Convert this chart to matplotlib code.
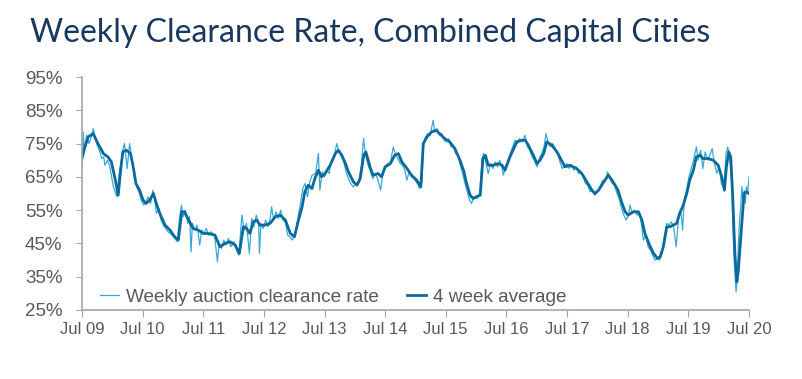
import matplotlib
matplotlib.use("Agg")
import matplotlib.pyplot as plt
import pandas as pd

# 4 week average
avg_dates = [
    "2009-07-01", "2009-07-16", "2009-08-07", "2009-09-07", "2009-09-25", "2009-10-16",
    "2009-11-07", "2009-12-04", "2009-12-25", "2010-01-16", "2010-02-04", "2010-02-22",
    "2010-03-04", "2010-03-25", "2010-04-19", "2010-05-04", "2010-05-22", "2010-06-13",
    "2010-07-04", "2010-07-22", "2010-08-13", "2010-09-04", "2010-09-22", "2010-10-13",
    "2010-11-13", "2010-12-13", "2011-01-10", "2011-02-01", "2011-02-22", "2011-03-10",
    "2011-04-10", "2011-05-01", "2011-06-01", "2011-07-01", "2011-07-28", "2011-09-10",
    "2011-10-10", "2011-11-10", "2011-12-10", "2012-01-10", "2012-02-04", "2012-02-28",
    "2012-03-19", "2012-04-07", "2012-04-28", "2012-05-19", "2012-06-07", "2012-07-07",
    "2012-08-07", "2012-09-07", "2012-10-07", "2012-11-07", "2012-12-07", "2013-01-01",
    "2013-01-25", "2013-02-16", "2013-03-04", "2013-03-25", "2013-04-16", "2013-05-04",
    "2013-05-25", "2013-06-13", "2013-07-04", "2013-08-04", "2013-09-04", "2013-09-22",
    "2013-10-13", "2013-11-04", "2013-11-22", "2013-12-22", "2014-01-13", "2014-02-01",
    "2014-02-22", "2014-03-07", "2014-04-01", "2014-04-19", "2014-05-19", "2014-06-10",
    "2014-07-01", "2014-08-01", "2014-08-28", "2014-09-19", "2014-10-10", "2014-11-10",
    "2014-12-07", "2015-01-07", "2015-02-01", "2015-02-16", "2015-03-10", "2015-04-07",
    "2015-05-04", "2015-05-25", "2015-06-25", "2015-07-25", "2015-08-25", "2015-09-25",
    "2015-10-19", "2015-11-04", "2015-11-25", "2015-12-13", "2016-01-13", "2016-01-25",
    "2016-02-10", "2016-02-25", "2016-03-13", "2016-04-13", "2016-05-13", "2016-06-04",
    "2016-06-22", "2016-07-22", "2016-09-01", "2016-10-01", "2016-10-22", "2016-11-10",
    "2016-12-10", "2017-01-01", "2017-01-19", "2017-02-10", "2017-03-01", "2017-04-01",
    "2017-05-01", "2017-05-28", "2017-06-19", "2017-07-19", "2017-08-28", "2017-09-28",
    "2017-10-28", "2017-11-28", "2017-12-16", "2018-01-07", "2018-02-07", "2018-03-07",
    "2018-04-04", "2018-05-04", "2018-05-25", "2018-06-16", "2018-07-04", "2018-08-04",
    "2018-09-04", "2018-09-25", "2018-10-13", "2018-11-10", "2018-12-04", "2018-12-28",
    "2019-01-13", "2019-02-01", "2019-02-22", "2019-03-13", "2019-04-01", "2019-04-22",
    "2019-05-10", "2019-06-01", "2019-06-22", "2019-07-10", "2019-08-01", "2019-08-19",
    "2019-09-10", "2019-09-28", "2019-10-28", "2019-11-28", "2019-12-28", "2020-01-19",
    "2020-02-04", "2020-02-16", "2020-03-01", "2020-03-13", "2020-03-25", "2020-04-07",
    "2020-04-19", "2020-04-28", "2020-05-19", "2020-06-01", "2020-06-16", "2020-07-01",
]
avg_values = [
    70.5, 73.5, 77.0, 78.0, 76.0, 74.0,
    72.0, 71.0, 69.5, 64.5, 59.5, 68.5,
    72.5, 73.0, 72.0, 68.5, 63.0, 61.0,
    58.0, 57.0, 58.0, 60.0, 57.0, 54.0,
    50.5, 49.0, 47.0, 46.0, 54.5, 54.5,
    51.5, 49.5, 49.0, 48.0, 48.0, 47.5,
    44.0, 45.0, 45.5, 44.5, 42.0, 50.0,
    49.5, 48.0, 51.5, 52.0, 50.5, 50.5,
    51.0, 53.0, 53.5, 52.0, 48.0, 47.0,
    52.0, 56.0, 60.5, 62.5, 61.5, 64.5,
    67.0, 65.0, 66.0, 68.5, 72.0, 73.0,
    71.5, 69.0, 66.5, 63.5, 62.5, 64.5,
    71.5, 72.5, 68.0, 65.5, 66.0, 65.0,
    68.0, 69.0, 71.5, 72.0, 69.5, 67.5,
    65.5, 64.0, 62.0, 75.0, 77.0, 78.5,
    79.0, 78.0, 76.5, 75.5, 73.5, 70.0,
    66.5, 63.0, 59.5, 58.5, 59.3, 59.5,
    70.5, 71.5, 68.5, 68.5, 69.0, 68.5,
    67.0, 71.0, 75.5, 76.0, 76.0, 74.5,
    71.5, 69.0, 70.0, 72.0, 75.5, 74.5,
    72.5, 70.0, 68.0, 68.5, 67.5, 66.0,
    63.5, 61.0, 60.0, 61.0, 63.5, 65.5,
    63.5, 61.0, 57.5, 54.5, 53.5, 54.5,
    54.5, 52.0, 48.0, 44.5, 42.0, 40.5,
    41.0, 44.0, 50.0, 50.0, 50.5, 51.0,
    54.0, 56.5, 60.0, 64.0, 67.0, 71.0,
    71.5, 70.5, 70.5, 70.0, 68.5, 65.0,
    61.0, 68.0, 72.5, 71.0, 59.0, 42.0,
    33.5, 37.0, 51.0, 60.0, 60.5, 60.0,
]

# weekly auction clearance rate (incl. visible spikes)
weekly_dates = [
    "2009-07-01", "2009-07-08", "2009-07-15", "2009-07-29", "2009-08-12", "2009-08-26",
    "2009-09-07", "2009-09-16", "2009-09-30", "2009-10-14", "2009-10-28", "2009-11-09",
    "2009-11-16", "2009-12-02", "2009-12-16", "2010-01-06", "2010-01-27", "2010-02-10",
    "2010-02-24", "2010-03-03", "2010-03-14", "2010-03-30", "2010-04-14", "2010-04-28",
    "2010-05-12", "2010-05-26", "2010-06-09", "2010-06-23", "2010-07-07", "2010-07-21",
    "2010-08-04", "2010-08-18", "2010-09-01", "2010-09-12", "2010-09-22", "2010-10-06",
    "2010-10-20", "2010-11-03", "2010-11-17", "2010-12-01", "2010-12-15", "2011-01-05",
    "2011-01-26", "2011-02-09", "2011-02-20", "2011-03-02", "2011-03-16", "2011-03-30",
    "2011-04-10", "2011-04-19", "2011-04-27", "2011-05-11", "2011-05-25", "2011-06-10",
    "2011-06-22", "2011-07-06", "2011-07-20", "2011-08-03", "2011-08-17", "2011-09-07",
    "2011-09-25", "2011-10-05", "2011-10-19", "2011-11-02", "2011-11-16", "2011-11-30",
    "2011-12-14", "2012-01-04", "2012-01-18", "2012-02-01", "2012-02-19", "2012-03-04",
    "2012-03-18", "2012-04-04", "2012-04-18", "2012-05-02", "2012-05-16", "2012-05-30",
    "2012-06-04", "2012-06-13", "2012-06-27", "2012-07-11", "2012-07-25", "2012-08-08",
    "2012-08-16", "2012-08-29", "2012-09-12", "2012-09-26", "2012-10-10", "2012-10-24",
    "2012-11-07", "2012-11-21", "2012-12-05", "2012-12-19", "2013-01-09", "2013-01-23",
    "2013-02-06", "2013-02-20", "2013-03-06", "2013-03-20", "2013-04-03", "2013-04-17",
    "2013-05-08", "2013-05-25", "2013-06-03", "2013-06-17", "2013-07-01", "2013-07-15",
    "2013-07-29", "2013-08-12", "2013-08-26", "2013-09-13", "2013-09-27", "2013-10-11",
    "2013-10-25", "2013-11-08", "2013-11-22", "2013-12-06", "2013-12-20", "2014-01-10",
    "2014-01-24", "2014-02-07", "2014-02-21", "2014-03-07", "2014-03-21", "2014-04-04",
    "2014-04-18", "2014-05-02", "2014-05-16", "2014-06-04", "2014-06-18", "2014-07-02",
    "2014-07-16", "2014-07-30", "2014-08-19", "2014-09-02", "2014-09-16", "2014-09-30",
    "2014-10-14", "2014-10-28", "2014-11-09", "2014-11-23", "2014-12-07", "2014-12-21",
    "2015-01-11", "2015-01-25", "2015-02-08", "2015-02-15", "2015-03-01", "2015-03-15",
    "2015-03-29", "2015-04-16", "2015-04-26", "2015-05-10", "2015-05-24", "2015-06-07",
    "2015-06-21", "2015-07-05", "2015-07-19", "2015-08-02", "2015-08-16", "2015-08-30",
    "2015-09-13", "2015-09-27", "2015-10-11", "2015-10-25", "2015-11-08", "2015-11-22",
    "2015-12-04", "2015-12-18", "2016-01-08", "2016-01-22", "2016-02-05", "2016-02-13",
    "2016-02-27", "2016-03-13", "2016-03-27", "2016-04-10", "2016-04-24", "2016-05-08",
    "2016-05-22", "2016-06-05", "2016-06-12", "2016-06-26", "2016-07-10", "2016-07-24",
    "2016-08-07", "2016-08-21", "2016-09-04", "2016-09-18", "2016-10-02", "2016-10-21",
    "2016-11-04", "2016-11-18", "2016-12-02", "2016-12-16", "2017-01-01", "2017-01-15",
    "2017-01-29", "2017-02-12", "2017-02-24", "2017-03-10", "2017-03-24", "2017-04-07",
    "2017-04-21", "2017-05-05", "2017-05-19", "2017-06-02", "2017-06-16", "2017-06-30",
    "2017-07-14", "2017-07-28", "2017-08-11", "2017-08-25", "2017-09-08", "2017-09-22",
    "2017-10-06", "2017-10-20", "2017-11-03", "2017-11-17", "2017-12-01", "2017-12-15",
    "2018-01-05", "2018-01-19", "2018-02-02", "2018-02-16", "2018-03-02", "2018-03-16",
    "2018-03-30", "2018-04-13", "2018-04-27", "2018-05-11", "2018-05-25", "2018-06-08",
    "2018-06-22", "2018-07-06", "2018-07-15", "2018-07-29", "2018-08-12", "2018-08-26",
    "2018-09-09", "2018-09-23", "2018-10-04", "2018-10-18", "2018-11-01", "2018-11-15",
    "2018-11-29", "2018-12-13", "2018-12-27", "2019-01-10", "2019-01-24", "2019-02-07",
    "2019-02-21", "2019-03-07", "2019-03-21", "2019-04-04", "2019-04-19", "2019-05-03",
    "2019-05-17", "2019-05-28", "2019-06-07", "2019-06-21", "2019-07-05", "2019-07-19",
    "2019-08-02", "2019-08-19", "2019-08-30", "2019-09-13", "2019-09-27", "2019-10-11",
    "2019-10-25", "2019-11-08", "2019-11-22", "2019-12-06", "2019-12-20", "2020-01-03",
    "2020-01-17", "2020-01-31", "2020-02-14", "2020-02-24", "2020-03-06", "2020-03-20",
    "2020-03-27", "2020-04-05", "2020-04-14", "2020-04-21", "2020-04-28", "2020-05-05",
    "2020-05-12", "2020-05-19", "2020-05-26", "2020-06-02", "2020-06-09", "2020-06-16",
    "2020-06-23", "2020-07-01",
]
weekly_values = [
    68.0, 78.5, 73.0, 77.5, 75.0, 77.0,
    79.5, 77.0, 74.5, 73.0, 70.5, 71.0,
    68.5, 70.0, 68.0, 62.0, 59.0, 66.0,
    70.0, 73.0, 75.0, 67.5, 75.0, 70.0,
    65.0, 62.0, 60.5, 58.0, 56.5, 57.5,
    59.0, 57.0, 61.0, 58.5, 54.0, 55.5,
    52.0, 50.5, 49.5, 48.5, 48.0, 47.0,
    45.5, 53.0, 56.5, 53.0, 55.0, 51.0,
    53.0, 42.5, 51.0, 49.0, 50.5, 44.5,
    49.0, 48.0, 49.5, 47.5, 48.5, 47.5,
    39.5, 45.0, 43.5, 46.0, 44.5, 46.5,
    44.0, 45.5, 43.0, 41.5, 53.5, 49.0,
    51.0, 42.0, 52.5, 50.0, 53.5, 51.0,
    42.0, 51.0, 49.5, 52.0, 50.0, 52.5,
    56.0, 52.0, 54.5, 52.5, 55.0, 52.0,
    51.5, 47.5, 47.0, 46.0, 49.0, 53.0,
    57.0, 61.5, 63.0, 59.0, 63.5, 65.5,
    66.0, 72.0, 61.0, 66.5, 65.0, 67.0,
    66.0, 70.0, 71.0, 75.0, 72.5, 71.0,
    69.5, 66.5, 64.5, 63.0, 62.0, 63.0,
    64.0, 68.0, 76.5, 71.0, 68.5, 66.5,
    64.5, 66.0, 64.5, 61.0, 66.5, 67.5,
    69.0, 68.5, 74.0, 71.5, 70.5, 69.0,
    68.5, 67.0, 64.0, 66.5, 65.0, 64.5,
    63.0, 61.5, 63.5, 74.0, 77.0, 78.0,
    77.5, 82.0, 78.5, 79.5, 77.5, 78.0,
    76.0, 75.5, 76.5, 74.0, 74.5, 72.0,
    71.5, 68.5, 66.0, 63.0, 60.5, 58.0,
    57.0, 59.0, 58.5, 60.0, 70.0, 72.0,
    69.5, 66.0, 69.0, 67.5, 69.5, 68.0,
    70.0, 67.5, 65.5, 68.0, 70.0, 72.0,
    74.0, 76.0, 75.0, 76.5, 75.5, 77.5,
    74.0, 73.0, 71.0, 70.0, 68.0, 70.5,
    72.0, 74.0, 78.0, 75.0, 74.0, 75.0,
    73.0, 72.0, 69.5, 67.5, 68.5, 69.0,
    67.5, 68.5, 67.0, 68.0, 66.0, 66.5,
    65.0, 63.0, 62.5, 60.5, 61.0, 59.5,
    61.0, 62.5, 64.0, 63.5, 66.5, 64.5,
    63.0, 62.5, 60.0, 58.5, 55.5, 53.5,
    52.0, 53.5, 56.5, 54.0, 55.0, 53.5,
    54.5, 50.5, 46.0, 47.5, 44.0, 43.0,
    41.5, 40.0, 40.5, 40.0, 42.0, 47.0,
    51.0, 50.5, 51.5, 50.0, 44.0, 52.0,
    55.0, 49.0, 58.0, 61.0, 65.0, 67.5,
    70.0, 74.0, 70.0, 73.0, 67.5, 72.5,
    70.0, 71.5, 73.5, 69.0, 66.0, 68.0,
    63.0, 61.5, 72.0, 74.0, 71.0, 63.0,
    48.0, 38.0, 30.5, 34.0, 45.0, 52.0,
    56.0, 62.0, 58.0, 61.0, 57.0, 62.0,
    60.0, 65.0,
]

tick_years = list(range(2009, 2021))
tick_labels = ["Jul %02d" % (y % 100) for y in tick_years]

light_blue = "#35aad8"
dark_blue = "#0b6a9b"
grey_text = "#595959"
axis_grey = "#a6a6a6"

fig = plt.figure(figsize=(8.03, 3.79), dpi=100)
ax = fig.add_axes([82 / 803, 1 - 310 / 379, (749 - 82) / 803, (310 - 77) / 379])

ax.plot(pd.to_datetime(weekly_dates), weekly_values, color=light_blue, lw=0.9,
        label="Weekly auction clearance rate")
ax.plot(pd.to_datetime(avg_dates), avg_values, color=dark_blue, lw=2.0,
        label="4 week average")

ax.set_xlim(pd.Timestamp("2009-07-01"), pd.Timestamp("2020-07-01"))
ax.set_ylim(25, 95)
ax.set_yticks(range(25, 96, 10))
ax.set_yticklabels(["%d%%" % v for v in range(25, 96, 10)])
ax.set_xticks([pd.Timestamp("%d-07-01" % y) for y in tick_years])
ax.set_xticklabels(tick_labels)

for s in ["top", "right"]:
    ax.spines[s].set_visible(False)
for s in ["left", "bottom"]:
    ax.spines[s].set_color(axis_grey)
    ax.spines[s].set_linewidth(1.2)

ax.tick_params(axis="y", direction="out", length=4, color=axis_grey, labelcolor=grey_text,
               labelsize=13.5, pad=10)
ax.tick_params(axis="x", direction="out", length=5, color=axis_grey, labelcolor=grey_text,
               labelsize=12, pad=4)
for lab in ax.get_yticklabels() + ax.get_xticklabels():
    lab.set_family(["Liberation Sans", "DejaVu Sans"])

leg = ax.legend(loc="center left", bbox_to_anchor=((100 - 82) / 667, (310 - 297) / 233),
                ncol=2, frameon=False, borderpad=0, borderaxespad=0,
                handlelength=1.0, handletextpad=0.35, columnspacing=1.5,
                prop={"family": "Liberation Sans", "size": 13.7})
for t in leg.get_texts():
    t.set_color(grey_text)

fig.text(30 / 803, 1 - 33 / 379, "Weekly Clearance Rate, Combined Capital Cities",
         fontsize=23, color="#17375e", family=["Lato", "DejaVu Sans"], va="center", ha="left")

fig.savefig("out.png", dpi=100)
